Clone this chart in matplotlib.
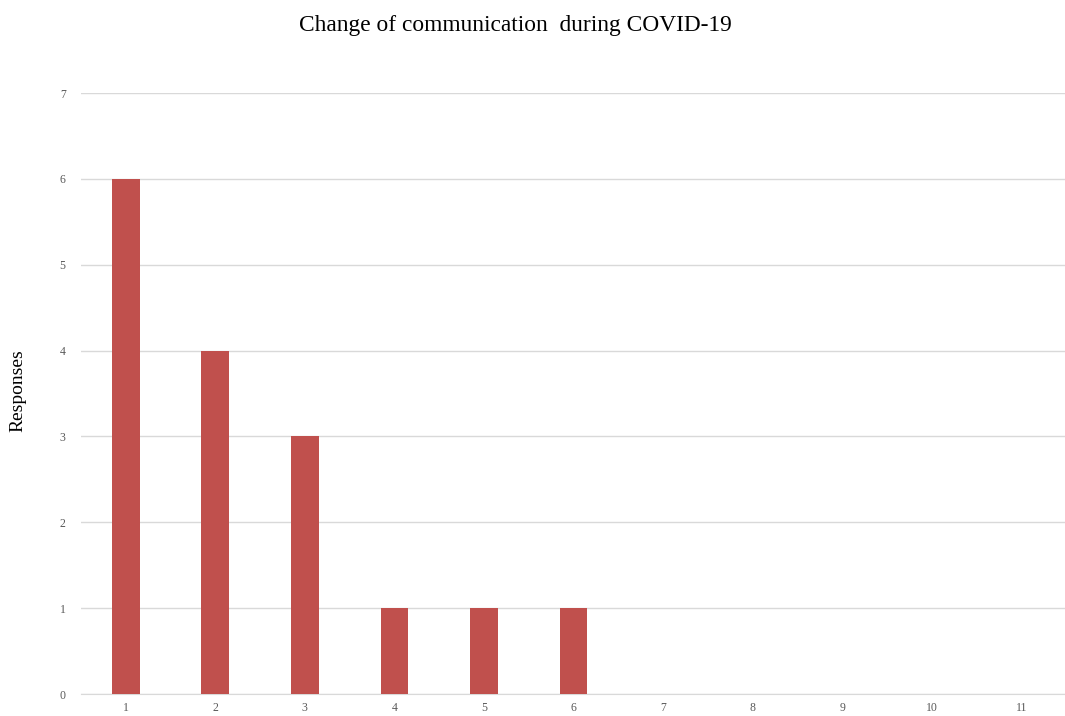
import numpy as np
import matplotlib.pyplot as plt

# Survey responses per category
categories = np.arange(1, 12)
responses = [6, 4, 3, 1, 1, 1, 0, 0, 0, 0, 0]
yticks = np.arange(0, 8)

plt.rcParams['font.family'] = ['Liberation Serif', 'DejaVu Serif']

fig = plt.figure(figsize=(10.65, 7.16), dpi=100)
ax = fig.add_axes([0.076, 0.0307, 0.925, 0.8394])

ax.bar(categories, responses, width=0.31, color='#C0504D', zorder=3)

ax.set_xlim(0.5, 11.5)
ax.set_ylim(0, 7)
ax.set_yticks(yticks)
ax.set_xticks(categories)
ax.grid(axis='y', color='#d9d9d9', linewidth=1, zorder=0)
for side in ['top', 'right', 'left']:
    ax.spines[side].set_visible(False)
ax.spines['bottom'].set_color('#d9d9d9')
ax.tick_params(length=0, labelsize=8.5, labelcolor='#595959')
ax.tick_params(axis='y', pad=11)
ax.tick_params(axis='x', pad=6)

fig.text(0.017, 0.455, 'Responses', rotation=90, ha='center', va='center',
         fontsize=14)
fig.text(0.484, 0.965, 'Change of communication  during COVID-19',
         ha='center', va='center', fontsize=16.8)

fig.savefig('out.png', dpi=100)
